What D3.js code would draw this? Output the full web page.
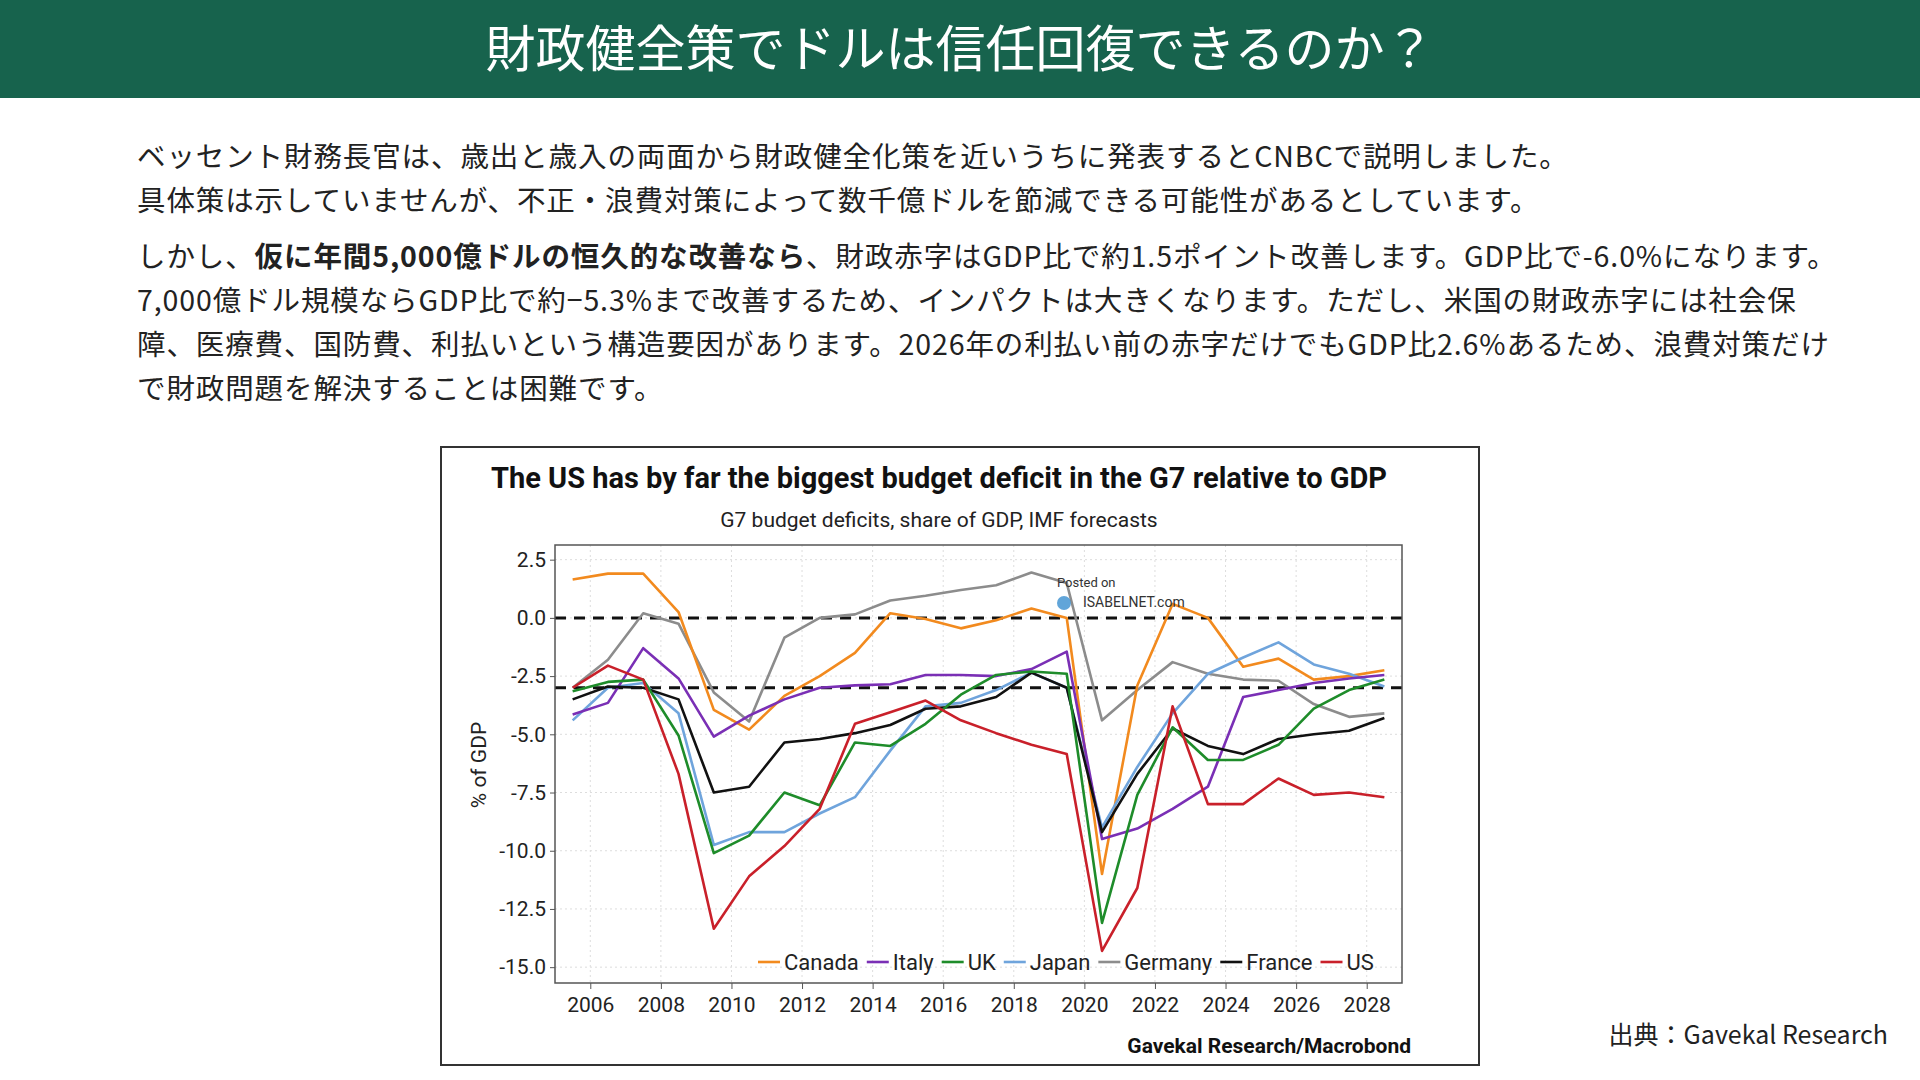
<!DOCTYPE html>
<html><head><meta charset="utf-8">
<script src="https://cdn.jsdelivr.net/npm/d3@7"></script>
<style>
body{margin:0;background:#fff;}
svg{display:block;}
</style></head>
<body>
<svg id="c" width="1920" height="1080"></svg>
<script>
var years = d3.range(2005, 2029);
var canada  = [1.65,1.9,1.9,0.25,-3.95,-4.8,-3.35,-2.5,-1.5,0.2,-0.05,-0.45,-0.1,0.4,0.0,-11.0,-2.9,0.6,0.0,-2.1,-1.75,-2.65,-2.5,-2.25];
var italy   = [-4.15,-3.65,-1.3,-2.6,-5.1,-4.2,-3.5,-3.0,-2.9,-2.85,-2.45,-2.45,-2.5,-2.2,-1.45,-9.5,-9.05,-8.2,-7.25,-3.4,-3.1,-2.8,-2.6,-2.45];
var uk      = [-3.15,-2.75,-2.65,-5.05,-10.1,-9.35,-7.5,-8.05,-5.35,-5.5,-4.55,-3.3,-2.45,-2.3,-2.4,-13.1,-7.6,-4.7,-6.1,-6.1,-5.45,-3.9,-3.1,-2.65];
var japan   = [-4.4,-3.0,-2.8,-4.1,-9.75,-9.2,-9.2,-8.4,-7.7,-5.7,-3.8,-3.65,-3.1,-2.35,-3.0,-9.0,-6.4,-4.1,-2.4,-1.7,-1.05,-2.0,-2.4,-2.95];
var germany = [-3.0,-1.8,0.2,-0.25,-3.2,-4.45,-0.85,0.0,0.15,0.75,0.95,1.2,1.4,1.95,1.5,-4.4,-3.1,-1.9,-2.4,-2.65,-2.7,-3.7,-4.25,-4.1];
var france  = [-3.5,-2.95,-3.0,-3.5,-7.5,-7.25,-5.35,-5.2,-4.95,-4.6,-3.9,-3.8,-3.4,-2.35,-3.0,-9.2,-6.7,-4.75,-5.5,-5.85,-5.2,-5.0,-4.85,-4.3];
var us      = [-3.0,-2.05,-2.65,-6.7,-13.35,-11.1,-9.8,-8.2,-4.55,-4.05,-3.55,-4.4,-4.95,-5.45,-5.85,-14.3,-11.6,-3.8,-8.0,-8.0,-6.9,-7.6,-7.5,-7.7];
var seriesNames = ["Canada","Italy","UK","Japan","Germany","France","US"];
var seriesColors = ["#f28a1e","#7a2fb5","#1e8c2a","#6fa4dc","#8c8c8c","#111111","#c9202a"];
var seriesDraw = ["Germany","Canada","Japan","Italy","France","UK","US"];
var yTicks = [2.5,0,-2.5,-5,-7.5,-10,-12.5,-15];
var xTicks = d3.range(2006, 2029, 2);
var refLines = [0,-3];

var data = {Canada:canada, Italy:italy, UK:uk, Japan:japan, Germany:germany, France:france, US:us};
var jp = "'Noto Sans CJK JP','Noto Sans',sans-serif";
var cf = "'Liberation Sans Narrow','Roboto','Open Sans',sans-serif";

var svg = d3.select("#c");
svg.append("rect").attr("x",0).attr("y",0).attr("width",1920).attr("height",98).attr("fill","#17634d");
svg.append("text").attr("x",960).attr("y",67).attr("text-anchor","middle")
	.attr("font-family",jp).attr("font-size",50).attr("fill","#fff")
	.text("財政健全策でドルは信任回復できるのか？");

var para = [
	[["ベッセント財務長官は、歳出と歳入の両面から財政健全化策を近いうちに発表するとCNBCで説明しました。",0]],
	[["具体策は示していませんが、不正・浪費対策によって数千億ドルを節減できる可能性があるとしています。",0]],
	[["しかし、",0],["仮に年間5,000億ドルの恒久的な改善なら",1],["、財政赤字はGDP比で約1.5ポイント改善します。GDP比で-6.0%になります。",0]],
	[["7,000億ドル規模ならGDP比で約−5.3%まで改善するため、インパクトは大きくなります。ただし、米国の財政赤字には社会保",0]],
	[["障、医療費、国防費、利払いという構造要因があります。2026年の利払い前の赤字だけでもGDP比2.6%あるため、浪費対策だけ",0]],
	[["で財政問題を解決することは困難です。",0]]
];
var paraY = [167,211,267,311,355,399];
para.forEach(function(line, i) {
	var t = svg.append("text").attr("x",137).attr("y",paraY[i])
		.attr("font-family",jp).attr("font-size",28.5).attr("letter-spacing",0.9).attr("fill","#222");
	line.forEach(function(p) {
		t.append("tspan").attr("font-weight", p[1] ? "bold" : "normal").text(p[0]);
	});
});

svg.append("text").attr("x",1888).attr("y",1044).attr("text-anchor","end")
	.attr("font-family",jp).attr("font-size",25).attr("fill","#222").text("出典：Gavekal Research");

// chart frame
svg.append("rect").attr("x",441).attr("y",447).attr("width",1038).attr("height",618)
	.attr("fill","#fff").attr("stroke","#333").attr("stroke-width",2);
svg.append("text").attr("x",939).attr("y",488).attr("text-anchor","middle")
	.attr("font-family",cf).attr("font-size",29).attr("font-weight","bold").attr("fill","#111")
	.text("The US has by far the biggest budget deficit in the G7 relative to GDP");
svg.append("text").attr("x",939).attr("y",527).attr("text-anchor","middle")
	.attr("font-family",cf).attr("font-size",21).attr("fill","#222")
	.text("G7 budget deficits, share of GDP, IMF forecasts");

var L = 555, R = 1402, T = 545, B = 983;
var x = d3.scaleLinear().domain([2005, 2029]).range([L, R]);
var y = d3.scaleLinear().domain([-15.68, 3.13]).range([B, T]);

var g = svg.append("g");
// grid
g.selectAll(".gy").data(yTicks).enter().append("line")
	.attr("x1",L).attr("x2",R).attr("y1",function(d){return y(d);}).attr("y2",function(d){return y(d);})
	.attr("stroke","#ddd").attr("stroke-dasharray","2,3");
g.selectAll(".gx").data(xTicks).enter().append("line")
	.attr("y1",T).attr("y2",B).attr("x1",function(d){return x(d);}).attr("x2",function(d){return x(d);})
	.attr("stroke","#ddd").attr("stroke-dasharray","2,3");

g.selectAll(".ref").data(refLines).enter().append("line")
	.attr("x1",L).attr("x2",R).attr("y1",function(d){return y(d);}).attr("y2",function(d){return y(d);})
	.attr("stroke","#111").attr("stroke-width",3).attr("stroke-dasharray","11,8");

var line = d3.line().x(function(d,i){return x(years[i] + 0.5);}).y(function(d){return y(d);});
seriesDraw.forEach(function(n) {
	g.append("path").datum(data[n]).attr("d", line).attr("fill","none")
		.attr("stroke", seriesColors[seriesNames.indexOf(n)]).attr("stroke-width",2.6)
		.attr("stroke-linejoin","round");
});

g.append("rect").attr("x",L).attr("y",T).attr("width",R-L).attr("height",B-T)
	.attr("fill","none").attr("stroke","#555").attr("stroke-width",1.5);

var fmt = d3.format(".1f");
var ya = svg.append("g").attr("transform","translate("+L+",0)")
	.call(d3.axisLeft(y).tickValues(yTicks).tickFormat(function(d){return fmt(d).replace("−","-");}).tickSize(5).tickPadding(4));
var xa = svg.append("g").attr("transform","translate(0,"+B+")")
	.call(d3.axisBottom(x).tickValues(xTicks).tickFormat(d3.format("d")).tickSize(6).tickPadding(8));
[ya, xa].forEach(function(a) {
	a.select(".domain").remove();
	a.selectAll("text").attr("font-family",cf).attr("font-size",21).attr("fill","#222");
	a.selectAll("line").attr("stroke","#555");
});

svg.append("text").attr("transform","translate(486,765) rotate(-90)").attr("text-anchor","middle")
	.attr("font-family",cf).attr("font-size",21).attr("fill","#222").text("% of GDP");

// legend
var lg = svg.append("g").attr("transform","translate(758,962)");
var lx = 0;
seriesNames.forEach(function(n, i) {
	lg.append("line").attr("x1",lx).attr("x2",lx+22).attr("y1",0).attr("y2",0)
		.attr("stroke",seriesColors[i]).attr("stroke-width",2.6);
	var t = lg.append("text").attr("x",lx+26).attr("y",8).attr("font-family",cf)
		.attr("font-size",22).attr("fill","#222").text(n);
	lx += 26 + t.node().getComputedTextLength() + 8;
});

svg.append("text").attr("x",1057).attr("y",587).attr("font-family",cf).attr("font-size",13).attr("fill","#333").text("Posted on");
svg.append("circle").attr("cx",1064).attr("cy",603).attr("r",7).attr("fill","#3a8fd0").attr("opacity",0.8);
svg.append("text").attr("x",1083).attr("y",607).attr("font-family",cf).attr("font-size",14).attr("fill","#333").text("ISABELNET.com");

svg.append("text").attr("x",1411).attr("y",1053).attr("text-anchor","end")
	.attr("font-family",cf).attr("font-size",21).attr("font-weight","bold").attr("fill","#111")
	.text("Gavekal Research/Macrobond");
</script>
</body></html>
